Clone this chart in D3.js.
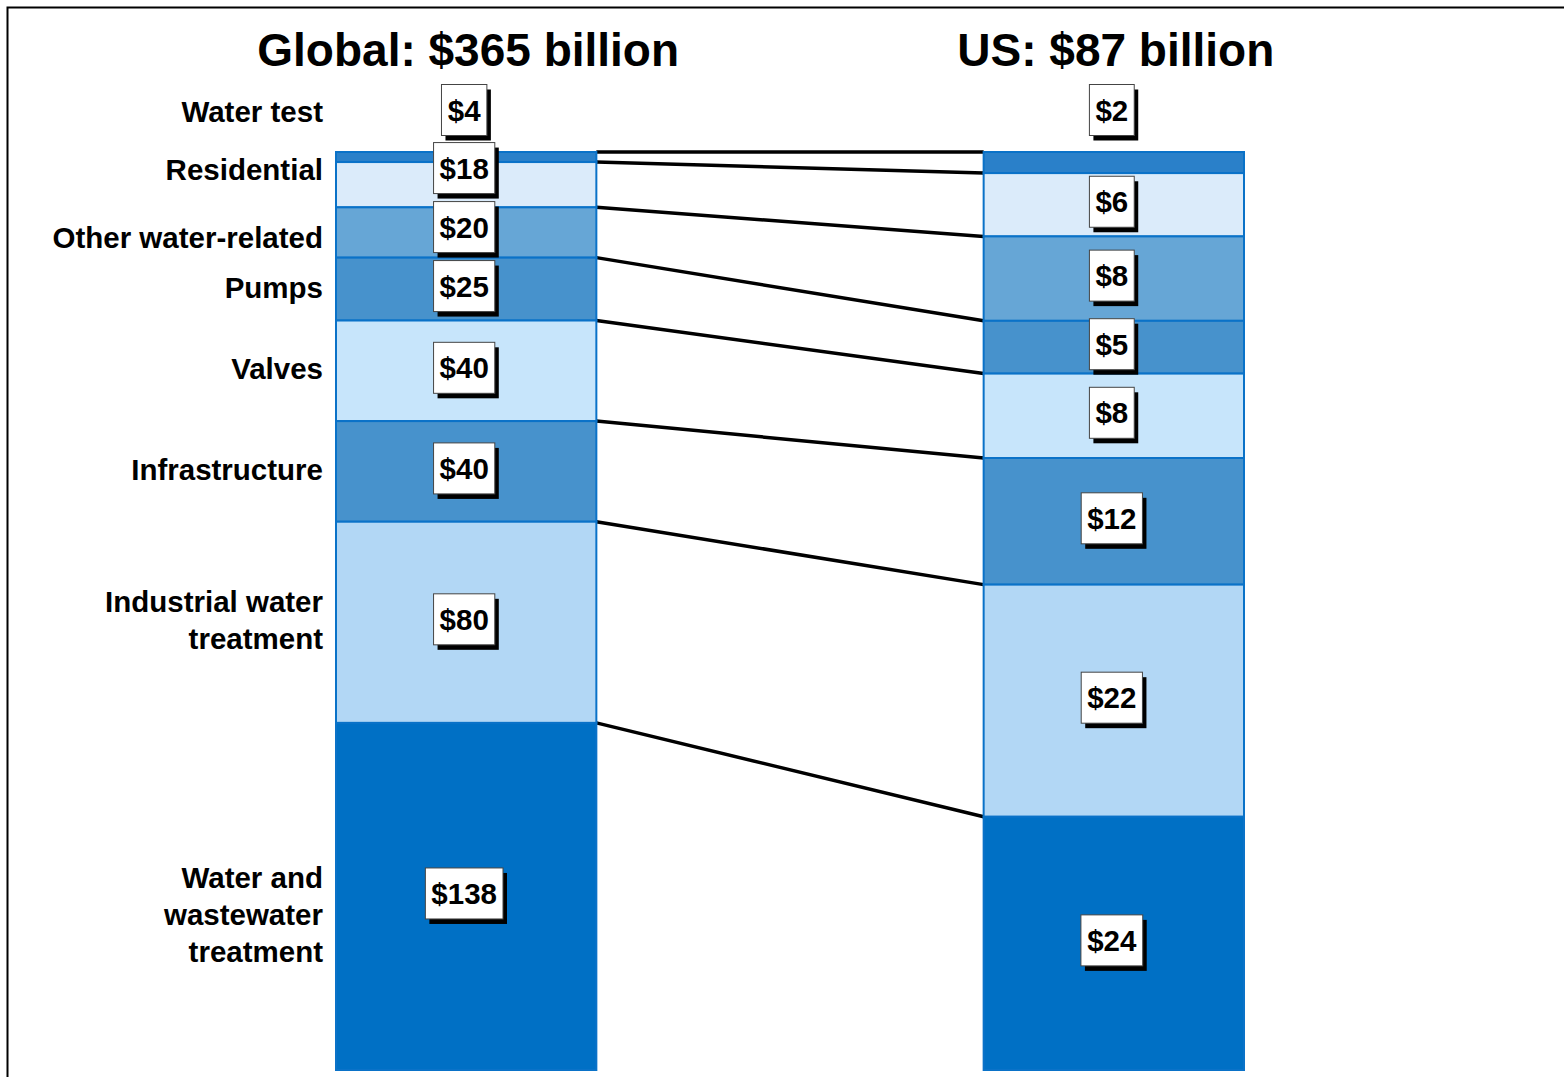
<!DOCTYPE html>
<html>
<head>
<meta charset="utf-8">
<script src="https://cdn.jsdelivr.net/npm/d3@7"></script>
<style>
  body { margin: 0; background: #fff; }
  text { font-family: "Liberation Sans", Arial, Helvetica, sans-serif; font-weight: bold; }
</style>
</head>
<body>
<div id="chart"></div>
<script>
// segments, top to bottom
var categories = ["Water test", "Residential", "Other water-related", "Pumps", "Valves",
                  "Infrastructure", "Industrial water treatment", "Water and wastewater treatment"];
var categoryLines = [["Water test"], ["Residential"], ["Other water-related"], ["Pumps"], ["Valves"],
                     ["Infrastructure"], ["Industrial water", "treatment"], ["Water and", "wastewater", "treatment"]];
var markets = ["Global", "US"];
var marketTitles = ["Global: $365 billion", "US: $87 billion"];
var globalValues = [4, 18, 20, 25, 40, 40, 80, 138];
var usValues = [2, 6, 8, 5, 8, 12, 22, 24];
var segmentColors = ["#2a80c9", "#dbebfa", "#66a6d6", "#4792cc", "#c7e5fb", "#4792cc", "#b2d7f5", "#0070c5"];

var W = 1564, H = 1077;
var svg = d3.select("#chart").append("svg")
    .attr("width", W)
    .attr("height", H);

// frame (open to the right / bottom like the source slide)
svg.append("rect")
    .attr("x", 7.5).attr("y", 7.5)
    .attr("width", W + 20).attr("height", H + 20)
    .attr("fill", "none")
    .attr("stroke", "#000")
    .attr("stroke-width", 2);

var x = d3.scaleBand()
    .domain(markets)
    .range([336, 1244])
    .paddingInner(0.598)
    .paddingOuter(0);

var y = d3.scaleLinear()
    .domain([0, 1])
    .range([152, 1070]);

function stackOf(values) {
    var total = d3.sum(values), acc = 0;
    return values.map(function(v, i) {
        var s = {i: i, value: v, y0: acc / total, y1: (acc + v) / total};
        acc += v;
        return s;
    });
}

var series = [stackOf(globalValues), stackOf(usValues)];

// connector lines between matching segment boundaries
var boundaries = d3.range(categories.length).map(function(i) {
    return {g: series[0][i].y0, u: series[1][i].y0};
});
svg.selectAll("line.link")
    .data(boundaries)
    .enter()
    .append("line")
        .attr("class", "link")
        .attr("x1", x("Global") + x.bandwidth())
        .attr("x2", x("US"))
        .attr("y1", function(d) { return y(d.g); })
        .attr("y2", function(d) { return y(d.u); })
        .attr("stroke", "#000")
        .attr("stroke-width", 3.5);

// bars
markets.forEach(function(m, k) {
    var g = svg.append("g");
    g.selectAll("rect")
        .data(series[k])
        .enter()
        .append("rect")
            .attr("x", x(m))
            .attr("y", function(d) { return y(d.y0); })
            .attr("width", x.bandwidth())
            .attr("height", function(d) { return y(d.y1) - y(d.y0); })
            .attr("fill", function(d) { return segmentColors[d.i]; })
            .attr("stroke", "#0a72c8")
            .attr("stroke-width", 2);

    // title
    svg.append("text")
        .attr("x", x(m) + x.bandwidth() / 2 + 2)
        .attr("y", 66)
        .attr("text-anchor", "middle")
        .style("font-size", "46px")
        .text(marketTitles[k]);
});

// value labels: centred in the segment, first one sits above the bar, push up on overlap
var boxH = 51, gap = 8;
function labelPositions(stack) {
    var pos = stack.map(function(d) { return (y(d.y0) + y(d.y1)) / 2 - 3; });
    pos[0] = y(0) - 42;
    for (var i = pos.length - 2; i >= 1; i--) {
        pos[i] = Math.min(pos[i], pos[i + 1] - boxH - gap);
    }
    return pos;
}
var labelY = series.map(labelPositions);

markets.forEach(function(m, k) {
    var cx = x(m) + x.bandwidth() / 2 - 2;
    var lab = svg.append("g").selectAll("g")
        .data(series[k])
        .enter()
        .append("g")
            .attr("transform", function(d) { return "translate(" + cx + "," + labelY[k][d.i] + ")"; });

    lab.append("text")
        .attr("text-anchor", "middle")
        .attr("dy", "0.36em")
        .style("font-size", "29.5px")
        .text(function(d) { return "$" + d.value; })
        .each(function(d) {
            var bb = this.getBBox();
            d.bw = bb.width + 12;
        });

    lab.insert("rect", "text")
        .attr("x", function(d) { return -d.bw / 2 + 4; })
        .attr("y", -boxH / 2 + 5)
        .attr("width", function(d) { return d.bw; })
        .attr("height", boxH)
        .attr("fill", "#000");
    lab.insert("rect", "text")
        .attr("x", function(d) { return -d.bw / 2; })
        .attr("y", -boxH / 2)
        .attr("width", function(d) { return d.bw; })
        .attr("height", boxH)
        .attr("fill", "#fff")
        .attr("stroke", "#444")
        .attr("stroke-width", 1);
});

// category labels on the left
var lineH = 37;
var catY = labelY[0].map(function(v, i) {
    var n = categoryLines[i].length;
    if (n > 2) return v + 21;
    if (i === 2) return v + 10;
    return v + 1;
});
var cat = svg.append("g").selectAll("text")
    .data(categoryLines)
    .enter()
    .append("text")
        .attr("text-anchor", "end")
        .style("font-size", "29.5px")
        .attr("transform", function(d, i) { return "translate(323," + catY[i] + ")"; });
cat.selectAll("tspan")
    .data(function(d) { return d; })
    .enter()
    .append("tspan")
        .attr("x", 0)
        .attr("y", function(t, j, nodes) {
            var n = nodes.length;
            return (j - (n - 1) / 2) * lineH;
        })
        .attr("dy", "0.36em")
        .text(function(t) { return t; });
</script>
</body>
</html>
